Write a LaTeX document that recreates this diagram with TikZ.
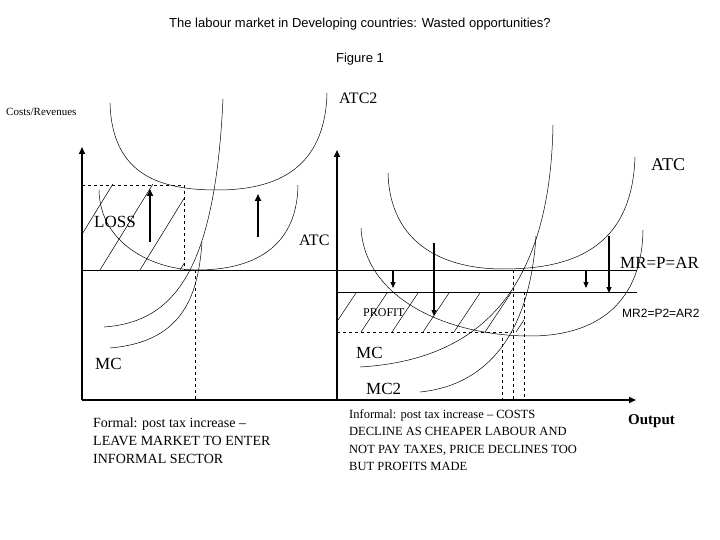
\documentclass[tikz,border=0pt]{standalone}
\usepackage{fontspec}
\setmainfont{Liberation Serif}
\newfontfamily\arialf{Liberation Sans}
\usetikzlibrary{arrows.meta}
\begin{document}
\begin{tikzpicture}[x={(1pt,0)},y={(0,-1pt)},
  axis/.style={line width=1.6pt,-{Triangle[length=7pt,width=6pt]}},
  curve/.style={line width=0.5pt},
  hl/.style={line width=0.7pt},
  dsh/.style={dashed,line width=0.6pt},
  bigarrow/.style={line width=1.6pt,-{Triangle[length=7pt,width=6pt]}},
  lbl/.style={inner sep=0pt,anchor=west}]
\useasboundingbox (0,0) rectangle (720,540);
% texts
\node[font=\arialf\fontsize{13}{15}\selectfont] (title) at (360,24) {The labour market in Developing countries: Wasted opportunities?};
\node[font=\arialf\fontsize{13}{15}\selectfont] (fig) at (360,59) {Figure 1};
\node[lbl,font=\fontsize{11}{13}\selectfont] (cr) at (6,112) {Costs/Revenues};
\node[lbl,font=\fontsize{16}{18}\selectfont] (atc2l) at (339,98) {ATC2};
\node[lbl,font=\fontsize{18}{20}\selectfont] (atcr) at (651,165) {ATC};
\node[lbl,font=\fontsize{17}{19}\selectfont] (loss) at (94,222) {LOSS};
\node[lbl,font=\fontsize{16}{18}\selectfont] (atcl) at (299,240) {ATC};
\node[lbl,font=\fontsize{17}{19}\selectfont] (mrl) at (620,263) {MR=P=AR};
\node[lbl,font=\arialf\fontsize{12}{14}\selectfont] (mr2) at (622,313) {MR2=P2=AR2};
\node[lbl,font=\fontsize{12}{14}\selectfont] (profit) at (363,313) {PROFIT};
\node[lbl,font=\fontsize{17}{19}\selectfont] (mcl) at (95,364) {MC};
\node[lbl,font=\fontsize{17}{19}\selectfont] (mcr) at (356,353) {MC};
\node[lbl,font=\fontsize{17}{19}\selectfont] (mc2) at (366,389) {MC2};
\node[lbl,font=\bfseries\fontsize{15}{17}\selectfont] (out) at (628,421) {Output};
\node[lbl,anchor=north west,align=left,font=\fontsize{14}{18}\selectfont] (formal) at (93,418) {Formal: post tax increase --\\LEAVE MARKET TO ENTER\\INFORMAL SECTOR};
\node[lbl,anchor=north west,align=left,font=\fontsize{12.5}{17.5}\selectfont] (inf) at (349,409) {Informal: post tax increase -- COSTS\\DECLINE AS CHEAPER LABOUR AND\\NOT PAY TAXES, PRICE DECLINES TOO\\BUT PROFITS MADE};
% hatching
\begin{scope}
\clip (82,185) rectangle (184,270);
\foreach \s in {40,80,...,240} \draw[curve] (\s-20,270) -- ++(80,-130);
\end{scope}
\begin{scope}
\clip (337,292) rectangle (524,332);
\foreach \s in {330,361,...,560} \draw[curve] (\s,332) -- ++(40,-60);
\end{scope}
% dashed
\draw[dsh] (82,185) -- (184,185) -- (184,270);
\draw[dsh] (195,270) -- (195,400);
\draw[dsh] (337,332) -- (512,332);
\draw[dsh] (513,270) -- (513,400);
\draw[dsh] (524,292) -- (524,400);
\draw[dsh] (502,338) -- (502,400);
% horizontal lines
\draw[hl] (82,270) -- (637,270);
\draw[hl] (337,292) -- (637,292);
% curves left
\draw[curve] (110,103) .. controls (112,175) and (160,190) .. (217,190) .. controls (275,190) and (325,170) .. (327,93);
\draw[curve] (99,190) .. controls (100,245) and (155,270) .. (197,270) .. controls (250,270) and (297,250) .. (298,185);
\draw[curve] (104,327) .. controls (175,322) and (215,270) .. (223,99);
\draw[curve] (110,348) .. controls (180,342) and (198,300) .. (202,242);
% curves right
\draw[curve] (388,173) .. controls (390,245) and (445,269) .. (503,269) .. controls (570,269) and (632,250) .. (635,157);
\draw[curve] (361,228) .. controls (365,300) and (450,336) .. (530,336) .. controls (600,336) and (642,300) .. (643,230);
\draw[curve] (360,367) .. controls (480,360) and (550,290) .. (553,125);
\draw[curve] (420,392) .. controls (490,385) and (530,330) .. (536,236);
% axes
\draw[axis] (82,400) -- (82,147);
\draw[axis] (337,400) -- (337,150);
\draw[axis] (82,400) -- (636,400);
% arrows
\draw[bigarrow] (150,242) -- (150,189);
\draw[bigarrow] (258,237) -- (258,194);
\draw[line width=1.2pt,-{Triangle[length=6pt,width=5pt]}] (393,270) -- (393,288);
\draw[line width=1.2pt,-{Triangle[length=6pt,width=5pt]}] (434,243) -- (434,316);
\draw[line width=1.2pt,-{Triangle[length=6pt,width=5pt]}] (586,270) -- (586,288);
\draw[line width=1.2pt,-{Triangle[length=6pt,width=5pt]}] (609,236) -- (609,293);
\end{tikzpicture}
\end{document}
